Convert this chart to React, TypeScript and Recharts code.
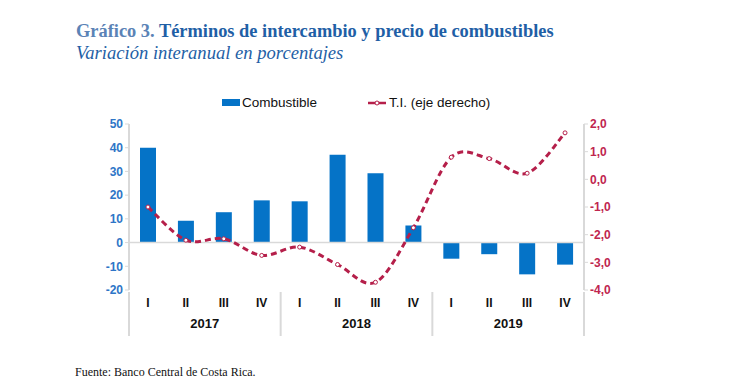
import React from 'react';
import {
  ComposedChart,
  Bar,
  Line,
  XAxis,
  YAxis,
  ReferenceLine
} from 'recharts';

const quarters = ['I', 'II', 'III', 'IV', 'I', 'II', 'III', 'IV', 'I', 'II', 'III', 'IV'];
const years = ['2017', '2017', '2017', '2017', '2018', '2018', '2018', '2018', '2019', '2019', '2019', '2019'];
const combustible = [40, 9.2, 12.8, 17.8, 17.4, 37, 29.2, 7.2, -6.8, -4.9, -13.4, -9.3];
const terminosIntercambio = [-1.0, -2.2, -2.15, -2.75, -2.45, -3.08, -3.72, -1.75, 0.8, 0.75, 0.22, 1.68];
const leftTicks = [-20, -10, 0, 10, 20, 30, 40, 50];
const rightTicks = [-4, -3, -2, -1, 0, 1, 2];

const BLUE = '#0573c7';
const RED = '#b51f4a';

const data = quarters.map((q, i) => ({
  q,
  year: years[i],
  combustible: combustible[i],
  ti: terminosIntercambio[i]
}));

// Excel-like smoothing: bezier with catmull-rom control points
const smoothCurve = (context: any) => {
  let pts: number[][] = [];
  return {
    areaStart() {},
    areaEnd() {},
    lineStart() { pts = []; },
    point(x: number, y: number) { pts.push([x, y]); },
    lineEnd() {
      if (!pts.length) return;
      context.moveTo(pts[0][0], pts[0][1]);
      for (let i = 0; i < pts.length - 1; i++) {
        const p0 = pts[i - 1] || pts[i];
        const p1 = pts[i];
        const p2 = pts[i + 1];
        const p3 = pts[i + 2] || p2;
        context.bezierCurveTo(
          p1[0] + (p2[0] - p0[0]) / 6, p1[1] + (p2[1] - p0[1]) / 6,
          p2[0] - (p3[0] - p1[0]) / 6, p2[1] - (p3[1] - p1[1]) / 6,
          p2[0], p2[1]
        );
      }
    }
  };
};

const fmtRight = (v: number) => v.toFixed(1).replace('.', ',');

const YearTick = (props: any) => {
  const { x, y, payload, index, visibleTicksCount } = props;
  const half = payload.offset || 0;
  const isLast = index === (visibleTicksCount || 3) - 1;
  return (
    <g>
      <text x={x} y={y + 10} textAnchor="middle" fontSize={13} fontWeight="bold" fill="#111" fontFamily="Liberation Sans, Arial, sans-serif">
        {payload.value}
      </text>
      <line x1={x - half} x2={x - half} y1={y - 26} y2={y + 18} stroke="#d9d9d9" strokeWidth={2} />
      {isLast && <line x1={x + half} x2={x + half} y1={y - 26} y2={y + 18} stroke="#d9d9d9" strokeWidth={2} />}
    </g>
  );
};

const App: React.FC = () => {
  const font = 'Liberation Sans, Arial, sans-serif';
  return (
    <div style={{ position: 'absolute', left: 0, top: 0, width: 743, height: 384, background: '#fff' }}>
      <div style={{ position: 'absolute', left: 76, top: 21, fontFamily: 'Liberation Serif, Times New Roman, serif', fontSize: 18.4, fontWeight: 'bold', lineHeight: '20px', whiteSpace: 'nowrap' }}>
        <span style={{ color: '#5b83b6' }}>Gráfico 3.</span>
        <span style={{ color: '#1f5fa6' }}> Términos de intercambio y precio de combustibles</span>
      </div>
      <div style={{ position: 'absolute', left: 76, top: 43, fontFamily: 'Liberation Serif, Times New Roman, serif', fontSize: 18.6, fontStyle: 'italic', color: '#1f5fa6', lineHeight: '20px', whiteSpace: 'nowrap' }}>
        Variación interanual en porcentajes
      </div>

      <div style={{ position: 'absolute', left: 222, top: 95, fontFamily: font, fontSize: 13.5, color: '#111', display: 'flex', alignItems: 'center', whiteSpace: 'nowrap' }}>
        <span style={{ display: 'inline-block', width: 18, height: 7, background: BLUE, marginRight: 2 }} />
        <span>Combustible</span>
        <svg width={20} height={10} style={{ marginLeft: 50, marginRight: 2 }}>
          <line x1={1} x2={19} y1={5} y2={5} stroke={RED} strokeWidth={2.5} />
          <circle cx={10} cy={5} r={2} fill="#fff" stroke={RED} strokeWidth={1} />
        </svg>
        <span>T.I. (eje derecho)</span>
      </div>

      <div style={{ position: 'absolute', left: 0, top: 0 }}>
        <ComposedChart
          width={743}
          height={384}
          data={data}
          margin={{ top: 124, right: 114, bottom: 50, left: 89 }}
        >
          <XAxis
            xAxisId="q"
            dataKey="q"
            height={20}
            axisLine={false}
            tickLine={false}
            interval={0}
            tick={{ fontSize: 12, fontWeight: 'bold', fill: '#111', fontFamily: font }}
          />
          <XAxis
            xAxisId="y"
            dataKey="year"
            allowDuplicatedCategory={false}
            height={24}
            axisLine={false}
            tickLine={false}
            interval={0}
            tick={<YearTick />}
          />
          <YAxis
            yAxisId="l"
            domain={[-20, 50]}
            ticks={leftTicks}
            width={40}
            axisLine={{ stroke: '#d9d9d9', strokeWidth: 2 }}
            tickLine={{ stroke: '#d9d9d9' }}
            tickSize={4}
            tick={{ fontSize: 12, fontWeight: 'bold', fill: '#2e75c7', fontFamily: font }}
          />
          <YAxis
            yAxisId="r"
            orientation="right"
            domain={[-4, 2]}
            ticks={rightTicks}
            width={45}
            axisLine={{ stroke: '#d9d9d9', strokeWidth: 2 }}
            tickLine={{ stroke: '#d9d9d9' }}
            tickSize={4}
            tickFormatter={fmtRight}
            tick={{ fontSize: 12, fontWeight: 'bold', fill: '#c0264f', fontFamily: font }}
          />
          <ReferenceLine yAxisId="l" xAxisId="q" y={0} stroke="#d9d9d9" strokeWidth={1.5} />
          <Bar
            xAxisId="q"
            yAxisId="l"
            dataKey="combustible"
            fill={BLUE}
            barSize={16}
            isAnimationActive={false}
          />
          <Line
            xAxisId="q"
            yAxisId="r"
            dataKey="ti"
            type={smoothCurve as any}
            stroke={RED}
            strokeWidth={3}
            strokeDasharray="6 4"
            dot={{ r: 2, fill: '#fff', stroke: RED, strokeWidth: 1, strokeDasharray: 'none' }}
            activeDot={false}
            isAnimationActive={false}
          />
        </ComposedChart>
      </div>

      <div style={{ position: 'absolute', left: 75, top: 365, fontFamily: 'Liberation Serif, Times New Roman, serif', fontSize: 12, color: '#111', whiteSpace: 'nowrap' }}>
        Fuente: Banco Central de Costa Rica.
      </div>
    </div>
  );
};

export default App;
